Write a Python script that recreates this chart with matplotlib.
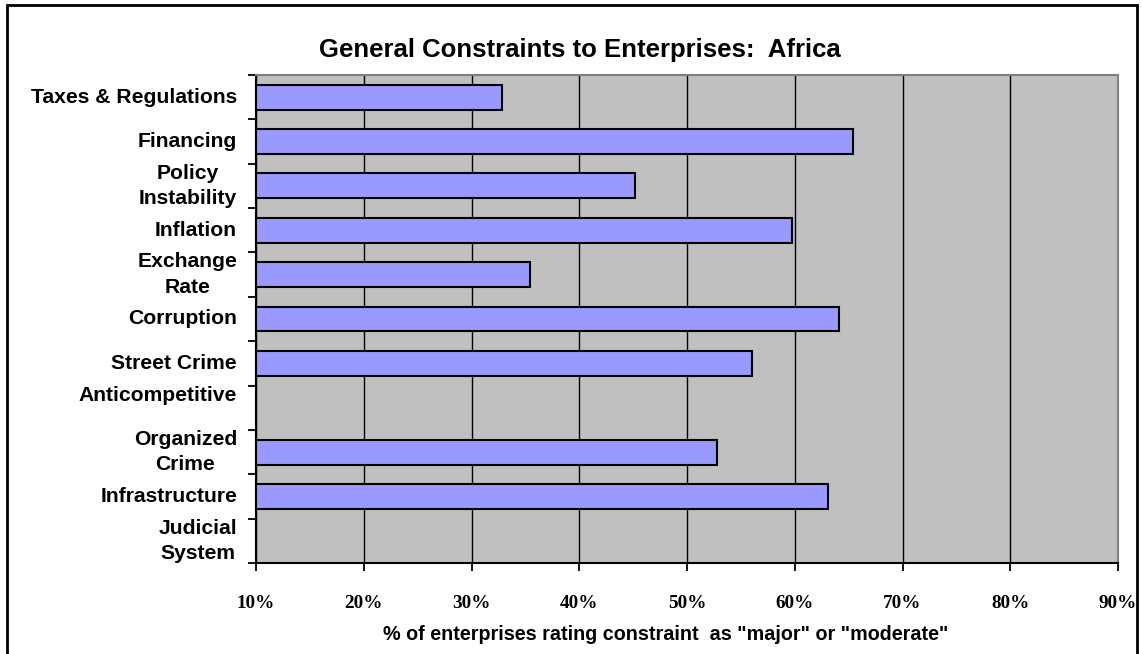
import numpy as np
import matplotlib.pyplot as plt
from matplotlib.patches import Rectangle

# share of firms rating each constraint as major or moderate (%)
constraints = ["Taxes & Regulations", "Financing", "Policy\nInstability", "Inflation",
               "Exchange\nRate", "Corruption", "Street Crime", "Anticompetitive\n",
               "Organized\nCrime", "Infrastructure", "Judicial\nSystem"]
africa = [32.8, 65.4, 45.2, 59.7, 35.4, 64.1, 56.0, np.nan, 52.8, 63.1, np.nan]
xticks = [10, 20, 30, 40, 50, 60, 70, 80, 90]

plt.rcParams['font.family'] = ['Liberation Sans', 'DejaVu Sans']

fig = plt.figure(figsize=(11.42, 6.54), dpi=100)
ax = fig.add_axes([256/1142, 1 - 563/654, (1118 - 256)/1142, (563 - 75)/654])
ax.set_facecolor('#C0C0C0')

y = np.arange(len(constraints))
vals = np.array(africa)
base = xticks[0]
ax.barh(y, vals - base, left=base, height=0.56, color='#9999FF',
        edgecolor='black', linewidth=1.5, zorder=3)

ax.set_xlim(xticks[0], xticks[-1])
ax.set_ylim(len(constraints) - 0.5, -0.5)
ax.set_xticks(xticks)
ax.set_xticklabels(['%d%%' % v for v in xticks], family='Liberation Serif',
                   fontweight='bold', fontsize=13.8)
ax.grid(axis='x', color='black', linewidth=1, zorder=1)

# category ticks sit between the bars; names are drawn separately
ax.set_yticks(np.arange(len(constraints) + 1) - 0.5)
ax.set_yticklabels([])
for i, name in enumerate(constraints):
    ax.text(-0.022, i, name, transform=ax.get_yaxis_transform(), ha='right',
            va='center', multialignment='center', fontsize=15.2,
            fontweight='bold', linespacing=1.42)

ax.tick_params(axis='both', direction='out', length=6, width=1.3, colors='black')
ax.tick_params(axis='x', pad=17)
for s in ['top', 'right']:
    ax.spines[s].set_color('#808080')
    ax.spines[s].set_linewidth(1.5)
for s in ['left', 'bottom']:
    ax.spines[s].set_color('black')
    ax.spines[s].set_linewidth(1.5)

fig.text(580/1142, 1 - 50/654, 'General Constraints to Enterprises:  Africa',
         ha='center', va='center', fontsize=18.5, fontweight='bold')
fig.text(666/1142, 1 - 634/654,
         '% of enterprises rating constraint  as "major" or "moderate"',
         ha='center', va='center', fontsize=14.2, fontweight='bold')

fig.patches.append(Rectangle((7/1142, -0.1), (1137 - 7)/1142, 1.1 - 5/654,
                             transform=fig.transFigure, fill=False,
                             edgecolor='black', linewidth=2))

fig.savefig('out.png', dpi=100)
